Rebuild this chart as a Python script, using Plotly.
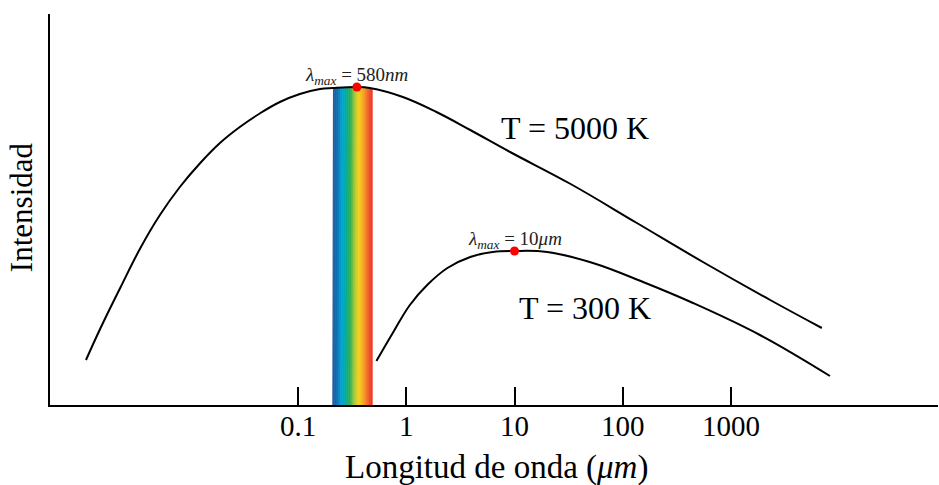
import numpy as np
import plotly.graph_objects as go
from plotly.colors import sample_colorscale

# Blackbody emission curves (arbitrary intensity units), wavelength in micrometres
lam_5000 = [0.0011, 0.0015, 0.0023, 0.0035, 0.0053, 0.0081, 0.0125, 0.019, 0.029,
            0.045, 0.068, 0.104, 0.16, 0.21, 0.35, 0.46, 0.93, 1.9, 3.9, 9.1,
            33, 135, 550, 2300, 6900]
int_5000 = [45, 77, 118, 157, 190, 218, 242, 262, 278,
            292, 303, 311, 316, 317, 318, 317, 308, 293, 275, 253,
            221, 182, 143, 105, 77]

lam_300 = [0.53, 0.76, 1.08, 1.56, 2.4, 3.9, 6.3, 10, 20, 53, 154, 446, 1850, 8200]
int_300 = [44, 73, 100, 120, 137, 148, 153, 154, 153, 142, 123, 102, 70, 29]

# Visible band drawn under the hot curve
band_lo, band_hi = 0.21, 0.49
band_colors = ["#2c5a9c", "#0a6fb0", "#00a3d6", "#00ad9c", "#33ae4f",
               "#a9cb3b", "#f7d11c", "#f8a51f", "#f3662a", "#ee3222"]

tick_vals = [0.1, 1, 10, 100, 1000]
tick_text = ["0.1", "1", "10", "100", "1000"]

peak_labels = ["<i>λ</i><sub><i>max</i></sub> = 580<i>nm</i>",
               "<i>λ</i><sub><i>max</i></sub> = 10<i>μm</i>"]
curve_labels = ["T = 5000 K", "T = 300 K"]

FONT = "Liberation Serif"

fig = go.Figure()

# rainbow stripes filling the area beneath the 5000 K curve
n_strips = 60
edges = np.logspace(np.log10(band_lo), np.log10(band_hi), n_strips + 1)
log_l5 = np.log10(lam_5000)
tops = np.interp(np.log10(edges), log_l5, int_5000)
scale = [[i / (len(band_colors) - 1), c] for i, c in enumerate(band_colors)]
cols = sample_colorscale(scale, list((np.arange(n_strips) + 0.5) / n_strips))
for i in range(n_strips):
    x0, x1 = edges[i], edges[i + 1]
    fig.add_trace(go.Scatter(
        x=[x0, x0, x1, x1, x0], y=[0, tops[i], tops[i + 1], 0, 0],
        mode="lines", fill="toself", fillcolor=cols[i],
        line=dict(width=1.2, color=cols[i]), hoverinfo="skip"))

# curves
for lam, inten in ((lam_5000, int_5000), (lam_300, int_300)):
    fig.add_trace(go.Scatter(x=lam, y=inten, mode="lines",
                             line=dict(color="black", width=2, shape="spline", smoothing=1.1),
                             hoverinfo="skip"))

# maxima of each curve
peaks = []
for lam, inten in ((lam_5000, int_5000), (lam_300, int_300)):
    k = int(np.argmax(inten))
    peaks.append((lam[k], inten[k]))
fig.add_trace(go.Scatter(x=[p[0] for p in peaks], y=[p[1] for p in peaks],
                         mode="markers", marker=dict(color="#ff0000", size=9),
                         hoverinfo="skip"))

for (px, py), txt in zip(peaks, peak_labels):
    fig.add_annotation(x=np.log10(px), y=py, text=txt, showarrow=False,
                       xanchor="center", yanchor="bottom", yshift=-3,
                       font=dict(family=FONT, size=19, color="#222"))

fig.add_annotation(x=np.log10(36), y=277, text=curve_labels[0], showarrow=False,
                   xanchor="center", yanchor="middle",
                   font=dict(family=FONT, size=32, color="black"))
fig.add_annotation(x=np.log10(45), y=97, text=curve_labels[1], showarrow=False,
                   xanchor="center", yanchor="middle",
                   font=dict(family=FONT, size=32, color="black"))

# axis titles
fig.add_annotation(xref="paper", yref="paper", x=0.503, y=-0.16,
                   xanchor="center", yanchor="middle",
                   text="Longitud de onda (<i>μm</i>)", showarrow=False,
                   font=dict(family=FONT, size=33, color="black"))
fig.add_annotation(xref="paper", yref="paper", x=-0.032, y=0.505,
                   xanchor="center", yanchor="middle",
                   text="Intensidad", textangle=-90, showarrow=False,
                   font=dict(family=FONT, size=31, color="black"))

fig.update_layout(
    width=939, height=485,
    margin=dict(l=50, r=1, t=14, b=80),
    plot_bgcolor="white", paper_bgcolor="white",
    showlegend=False,
    font=dict(family=FONT, color="black"),
    xaxis=dict(type="log", range=[-3.291, 4.912], tickvals=tick_vals, ticktext=tick_text,
               ticks="inside", ticklen=18, tickwidth=2, tickcolor="black",
               ticklabelstandoff=-6,
               showline=True, linewidth=2, linecolor="black",
               showgrid=False, zeroline=False,
               tickfont=dict(family=FONT, size=29, color="black")),
    yaxis=dict(range=[0, 391], showticklabels=False, ticks="",
               showline=True, linewidth=2, linecolor="black",
               showgrid=False, zeroline=False),
)

fig.write_html("out.html")
